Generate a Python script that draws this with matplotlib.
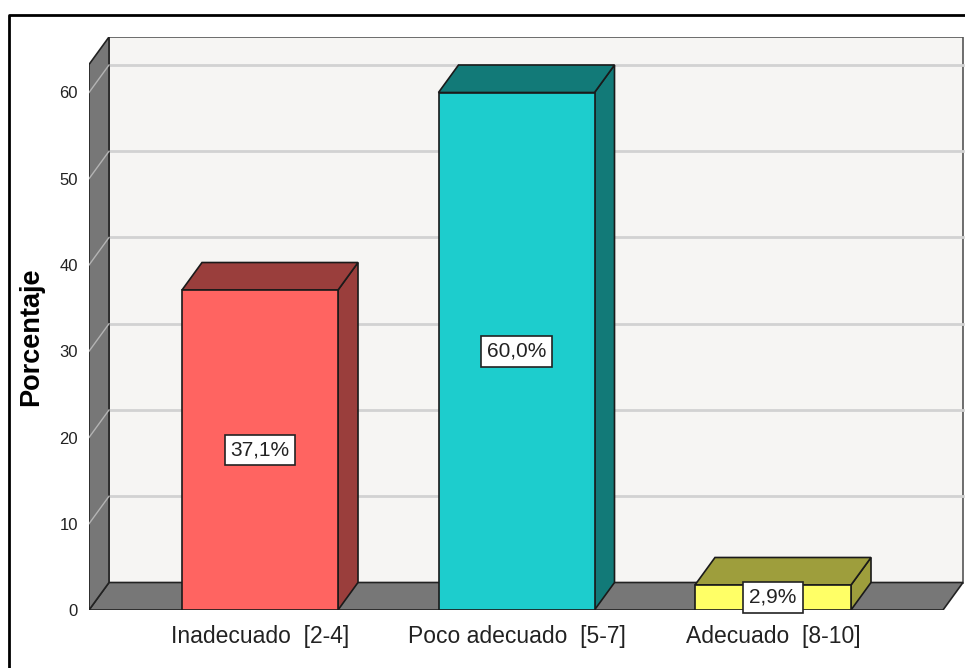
import matplotlib
matplotlib.use('Agg')
from matplotlib import pyplot as plt
from matplotlib.patches import Polygon, Rectangle
from matplotlib.lines import Line2D

# datos del grafico
categorias  = ['Inadecuado  [2-4]', 'Poco adecuado  [5-7]', 'Adecuado  [8-10]']
porcentajes = [37.1, 60.0, 2.9]
ticks_y     = [0, 10, 20, 30, 40, 50, 60]

col_frente = ['#FF6461', '#1DCDCD', '#FFFF66']
col_lado   = ['#9A3E3C', '#127A78', '#9E9E3C']

fuente = 'Liberation Sans'

# geometria (pixeles de la figura -> unidades de datos)
W, H = 965, 668
paso = 256.5          # px entre categorias
esc  = 8.625          # px por punto porcentual
dx, dy = 20/paso, 27.5/esc
xl, xr = (89-260)/paso, (943-260)/paso
ytop = (610-37)/esc
vmax = ytop - dy
ancho = 156/paso

fig = plt.figure(figsize=(W/100, H/100), dpi=100)
ax = fig.add_axes([89/W, (H-610)/H, (W-89)/W, (610-37)/H])
ax.set_xlim(xl, (W-260)/paso)
ax.set_ylim(0, ytop)
for s in ax.spines.values():
    s.set_visible(False)

# pared del fondo, suelo y pared izquierda
ax.add_patch(Rectangle((xl+dx, dy), xr-xl, vmax, fc='#F6F5F3', ec='#555555', lw=1.2, zorder=1))
ax.add_patch(Polygon([(xl, 0), (xr, 0), (xr+dx, dy), (xl+dx, dy)], closed=True,
                     fc='#777777', ec='#222222', lw=1.2, zorder=2))
ax.add_patch(Polygon([(xl, 0), (xl, vmax), (xl+dx, vmax+dy), (xl+dx, dy)], closed=True,
                     fc='#777777', ec='#222222', lw=1.2, zorder=2))

for t in ticks_y[1:]:
    ax.plot([xl+dx, xr+dx], [t+dy, t+dy], color='#D2D2D2', lw=2, zorder=1.5)
    ax.plot([xl, xl+dx], [t, t+dy], color='#B4B4B4', lw=1, zorder=2.5)

# barras 3D
for i, v in enumerate(porcentajes):
    x0, x1 = i - ancho/2, i + ancho/2
    ax.add_patch(Polygon([(x1, 0), (x1, v), (x1+dx, v+dy), (x1+dx, dy)], closed=True,
                         fc=col_lado[i], ec='#1A1A1A', lw=1.2, zorder=3))
    ax.add_patch(Polygon([(x0, v), (x1, v), (x1+dx, v+dy), (x0+dx, v+dy)], closed=True,
                         fc=col_lado[i], ec='#1A1A1A', lw=1.2, zorder=3))
    ax.add_patch(Rectangle((x0, 0), ancho, v, fc=col_frente[i], ec='#1A1A1A', lw=1.2, zorder=4))
    etiqueta = f'{v:.1f}'.replace('.', ',') + '%'
    ax.text(i, v/2, etiqueta, ha='center', va='center', fontsize=15, family=fuente,
            color='#222222', zorder=6,
            bbox=dict(boxstyle='square,pad=0.28', fc='white', ec='#222222', lw=1.2))

ax.set_yticks(ticks_y)
ax.set_yticklabels([str(t) for t in ticks_y], family=fuente, fontsize=12, color='#222222')
ax.set_xticks(range(len(categorias)))
ax.set_xticklabels(categorias, family=fuente, fontsize=16.5, color='#222222')
ax.tick_params(axis='y', length=0, pad=8)
ax.tick_params(axis='x', length=0, pad=11)

ax.text((31-89)/(W-89), (610-337)/(610-37), 'Porcentaje', transform=ax.transAxes,
        rotation=90, ha='center', va='center', fontsize=19.5, fontweight='bold',
        family=fuente, color='black')

# marco exterior
fig.add_artist(Line2D([9/W, 9/W, 1.0], [0, 1-15/H, 1-15/H], transform=fig.transFigure,
                      color='black', lw=2))

plt.savefig('out.png', dpi=100)
